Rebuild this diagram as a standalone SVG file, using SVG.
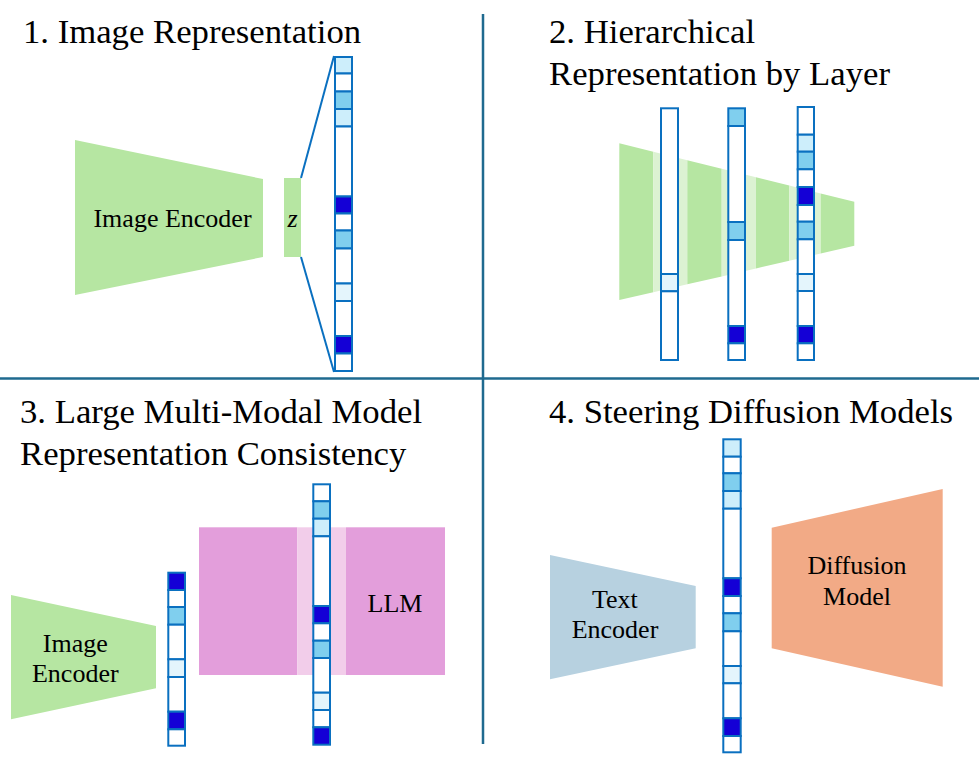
<svg xmlns="http://www.w3.org/2000/svg" width="979" height="761" viewBox="0 0 979 761">
<style>
.t{font-family:"Liberation Serif","Times New Roman",serif;fill:#000}
.title{font-size:34.7px}
.lbl{font-size:26px;text-anchor:middle}
.c rect{stroke:#0a70c0;stroke-width:2}
.w{fill:#fff}.l{fill:#cdeefb}.m{fill:#80cfee}.v{fill:#e4f5fc}.d{fill:#1400d6}
.g{fill:#b6e6a2}.gl{fill:#dcf2d2}
.div{stroke:#1f6a8f;stroke-width:2.5}
.ln{stroke:#0a70c0;stroke-width:2;fill:none}
</style>
<rect width="979" height="761" fill="#fff"/>
<g id="dividers">
<line class="div" x1="483" y1="14" x2="483" y2="744"/>
<line class="div" x1="0" y1="378.5" x2="979" y2="378.5"/>
</g>
<g id="titles">
<text class="t title" x="23" y="43">1. Image Representation</text>
<text class="t title" x="549" y="43">2. Hierarchical</text>
<text class="t title" x="549" y="85">Representation by Layer</text>
<text class="t title" x="20" y="423">3. Large Multi-Modal Model</text>
<text class="t title" x="20" y="465">Representation Consistency</text>
<text class="t title" x="549" y="423">4. Steering Diffusion Models</text>
</g>
<!-- Panel 1 -->
<g id="p1-encoder">
<polygon class="g" points="75,140 263,179 263,257 75,295"/>
<text class="t lbl" x="172.5" y="227">Image Encoder</text>
</g>
<g id="p1-z">
<rect class="g" x="284" y="178" width="17" height="79"/>
<text class="t" x="292.5" y="227" font-size="26" font-style="italic" text-anchor="middle">z</text>
</g>
<g id="p1-connectors">
<line class="ln" x1="301" y1="178" x2="334" y2="56"/>
<line class="ln" x1="301" y1="257" x2="334" y2="372"/>
</g>
<g id="p1-column" class="c">
<rect class="l" x="335" y="57" width="17" height="16.5"/>
<rect class="w" x="335" y="73.5" width="17" height="18"/>
<rect class="m" x="335" y="91.5" width="17" height="17.5"/>
<rect class="l" x="335" y="109" width="17" height="17.5"/>
<rect class="w" x="335" y="126.5" width="17" height="70"/>
<rect class="d" x="335" y="196.5" width="17" height="17"/>
<rect class="w" x="335" y="213.5" width="17" height="17"/>
<rect class="m" x="335" y="230.5" width="17" height="18"/>
<rect class="w" x="335" y="248.5" width="17" height="35"/>
<rect class="v" x="335" y="283.5" width="17" height="17.5"/>
<rect class="w" x="335" y="301" width="17" height="35"/>
<rect class="d" x="335" y="336" width="17" height="17.5"/>
<rect class="w" x="335" y="353.5" width="17" height="17.5"/>
</g>
<!-- Panel 2 -->
<g id="p2-encoder">
<polygon class="g" points="619.3,143.3 653.3,151.8 653.3,292.2 619.3,300"/>
<polygon class="gl" points="653.3,151.8 687.3,160.2 687.3,284.3 653.3,292.2"/>
<polygon class="g" points="687.3,160.2 721.7,168.8 721.7,276.4 687.3,284.3"/>
<polygon class="gl" points="721.7,168.8 756,177.3 756,268.4 721.7,276.4"/>
<polygon class="g" points="756,177.3 789.3,185.6 789.3,260.7 756,268.4"/>
<polygon class="gl" points="789.3,185.6 820.7,193.4 820.7,253.5 789.3,260.7"/>
<polygon class="g" points="820.7,193.4 854.3,201.7 854.3,245.7 820.7,253.5"/>
</g>
<g id="p2-column-a" class="c">
<rect class="w" x="661" y="108.3" width="17" height="165.7"/>
<rect class="v" x="661" y="274" width="17" height="17.3"/>
<rect class="w" x="661" y="291.3" width="17" height="68.7"/>
</g>
<g id="p2-column-b" class="c">
<rect class="m" x="728.3" y="108.3" width="16.7" height="17.7"/>
<rect class="w" x="728.3" y="126" width="16.7" height="96"/>
<rect class="m" x="728.3" y="222" width="16.7" height="18"/>
<rect class="w" x="728.3" y="240" width="16.7" height="86"/>
<rect class="d" x="728.3" y="326" width="16.7" height="17.3"/>
<rect class="w" x="728.3" y="343.3" width="16.7" height="16.7"/>
</g>
<g id="p2-column-c" class="c">
<rect class="w" x="797.7" y="107" width="16.3" height="27.7"/>
<rect class="l" x="797.7" y="134.7" width="16.3" height="17"/>
<rect class="m" x="797.7" y="151.7" width="16.3" height="17.6"/>
<rect class="w" x="797.7" y="169.3" width="16.3" height="17.7"/>
<rect class="d" x="797.7" y="187" width="16.3" height="18"/>
<rect class="w" x="797.7" y="205" width="16.3" height="16.7"/>
<rect class="m" x="797.7" y="221.7" width="16.3" height="17.6"/>
<rect class="w" x="797.7" y="239.3" width="16.3" height="34.7"/>
<rect class="v" x="797.7" y="274" width="16.3" height="17"/>
<rect class="w" x="797.7" y="291" width="16.3" height="35"/>
<rect class="d" x="797.7" y="326" width="16.3" height="17.3"/>
<rect class="w" x="797.7" y="343.3" width="16.3" height="16.7"/>
</g>
<!-- Panel 3 -->
<g id="p3-encoder">
<polygon class="g" points="11,595 156,626 156,688.3 11,719.3"/>
<text class="t lbl" x="75.3" y="651.7">Image</text>
<text class="t lbl" x="75.3" y="681.7">Encoder</text>
</g>
<g id="p3-column-small" class="c">
<rect class="d" x="168.3" y="572.7" width="16.7" height="17.3"/>
<rect class="w" x="168.3" y="590" width="16.7" height="17"/>
<rect class="m" x="168.3" y="607" width="16.7" height="17.7"/>
<rect class="w" x="168.3" y="624.7" width="16.7" height="34.6"/>
<rect class="v" x="168.3" y="659.3" width="16.7" height="17.7"/>
<rect class="w" x="168.3" y="677" width="16.7" height="34.7"/>
<rect class="d" x="168.3" y="711.7" width="16.7" height="17.6"/>
<rect class="w" x="168.3" y="729.3" width="16.7" height="16.4"/>
</g>
<g id="p3-llm">
<rect x="199" y="527.3" width="98.3" height="147.7" fill="#e39edb"/>
<rect x="297.3" y="527.3" width="48.7" height="147.7" fill="#f2cdea"/>
<rect x="346" y="527.3" width="99" height="147.7" fill="#e39edb"/>
<text class="t lbl" x="395" y="612">LLM</text>
</g>
<g id="p3-column-tall" class="c">
<rect class="w" x="313.3" y="484.3" width="16.7" height="17"/>
<rect class="m" x="313.3" y="501.3" width="16.7" height="17.4"/>
<rect class="l" x="313.3" y="518.7" width="16.7" height="17.6"/>
<rect class="w" x="313.3" y="536.3" width="16.7" height="69.7"/>
<rect class="d" x="313.3" y="606" width="16.7" height="17.3"/>
<rect class="w" x="313.3" y="623.3" width="16.7" height="17.4"/>
<rect class="m" x="313.3" y="640.7" width="16.7" height="17.3"/>
<rect class="w" x="313.3" y="658" width="16.7" height="34.7"/>
<rect class="v" x="313.3" y="692.7" width="16.7" height="17.3"/>
<rect class="w" x="313.3" y="710" width="16.7" height="17.3"/>
<rect class="d" x="313.3" y="727.3" width="16.7" height="17.4"/>
</g>
<!-- Panel 4 -->
<g id="p4-text-encoder">
<polygon points="550,555 695.7,586 695.7,648.3 550,679.3" fill="#b7d1e0"/>
<text class="t lbl" x="614.8" y="608.3">Text</text>
<text class="t lbl" x="615" y="638.3">Encoder</text>
</g>
<g id="p4-column" class="c">
<rect class="l" x="723.3" y="439.3" width="17.4" height="17.4"/>
<rect class="w" x="723.3" y="456.7" width="17.4" height="16.6"/>
<rect class="m" x="723.3" y="473.3" width="17.4" height="17.7"/>
<rect class="l" x="723.3" y="491" width="17.4" height="17.7"/>
<rect class="w" x="723.3" y="508.7" width="17.4" height="69.6"/>
<rect class="d" x="723.3" y="578.3" width="17.4" height="17.7"/>
<rect class="w" x="723.3" y="596" width="17.4" height="17.3"/>
<rect class="m" x="723.3" y="613.3" width="17.4" height="18"/>
<rect class="w" x="723.3" y="631.3" width="17.4" height="34.7"/>
<rect class="v" x="723.3" y="666" width="17.4" height="17.3"/>
<rect class="w" x="723.3" y="683.3" width="17.4" height="35"/>
<rect class="d" x="723.3" y="718.3" width="17.4" height="17.7"/>
<rect class="w" x="723.3" y="736" width="17.4" height="16.3"/>
</g>
<g id="p4-diffusion">
<polygon points="771.7,527.7 942.7,489 942.7,686.7 771.7,648.3" fill="#f2aa86"/>
<text class="t lbl" x="857" y="574">Diffusion</text>
<text class="t lbl" x="857" y="605">Model</text>
</g>
</svg>
